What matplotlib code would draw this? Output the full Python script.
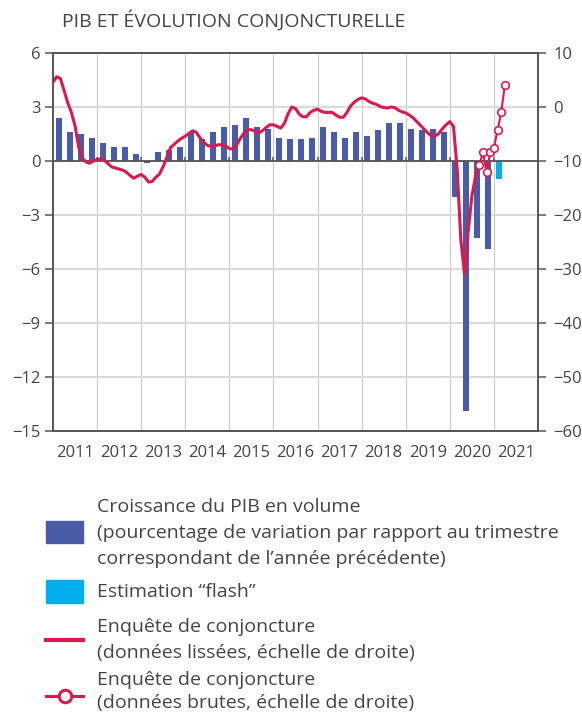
import matplotlib.pyplot as plt
from matplotlib.patches import Rectangle
from matplotlib.lines import Line2D

plt.rcParams['font.family'] = ['Open Sans', 'DejaVu Sans']

TITLE = "PIB ET ÉVOLUTION CONJONCTURELLE"
years = list(range(2011, 2022))

# GDP growth, % vs same quarter of previous year, 2011Q1 .. 2020Q4
gdp_q = [2.4, 1.6, 1.5, 1.3,
         1.0, 0.8, 0.8, 0.4,
         -0.1, 0.5, 0.6, 0.8,
         1.6, 1.2, 1.6, 1.9,
         2.0, 2.4, 1.9, 1.8,
         1.3, 1.2, 1.2, 1.3,
         1.9, 1.6, 1.3, 1.6,
         1.4, 1.7, 2.1, 2.1,
         1.8, 1.7, 1.8, 1.6,
         -2.0, -13.9, -4.3, -4.9]
# flash estimate, 2021Q1
flash_q = [-1.0]

# business survey, smoothed, monthly from Jan 2011 (right scale)
survey_smooth = [4.6, 5.6, 5.3, 3.1, 0.8, -1.0, -3.5, -7.5, -9.5, -10.2, -10.4, -10.0,
                 -9.7, -9.6, -9.9, -10.5, -11.1, -11.3, -11.5, -11.7, -12.1, -12.7, -13.2, -12.8,
                 -12.5, -13.0, -13.9, -13.8, -13.0, -12.4, -11.0, -9.3, -7.5, -6.9, -6.3, -5.8,
                 -5.4, -4.9, -4.4, -4.7, -5.7, -6.5, -7.1, -7.3, -7.2, -7.0, -7.0, -7.2,
                 -7.7, -7.8, -7.0, -5.8, -4.8, -4.2, -4.2, -4.5, -4.8, -4.4, -3.8, -3.3,
                 -3.3, -3.6, -3.9, -3.0, -1.2, 0.0, -0.3, -1.3, -1.8, -1.8, -1.0, -0.6,
                 -0.4, -0.8, -1.0, -1.0, -1.0, -1.5, -1.9, -1.9, -1.0, 0.2, 0.9, 1.4,
                 1.7, 1.5, 1.0, 0.7, 0.5, 0.1, -0.1, -0.2, 0.0, -0.1, -0.6, -0.9,
                 -1.1, -1.5, -2.0, -2.7, -3.4, -4.1, -4.8, -5.4, -5.4, -4.9, -4.0, -3.3,
                 -2.7, -3.6, -11.5, -24.6, -31.0, -23.0, -16.5, -12.8, -10.7]
# business survey, raw, monthly Sep 2020 .. Apr 2021
survey_raw = [-10.8, -8.4, -12.0, -8.4, -7.5, -4.3, -0.9, 4.1]

legend_labels = [
    ["Croissance du PIB en volume",
     "(pourcentage de variation par rapport au trimestre",
     "correspondant de l’année précédente)"],
    ["Estimation “flash”"],
    ["Enquête de conjoncture",
     "(données lissées, échelle de droite)"],
    ["Enquête de conjoncture",
     "(données brutes, échelle de droite)"],
]

BLUE = '#4a5ba8'
CYAN = '#00aeef'
RED = '#d91a50'
DARK = '#555555'
TXT = '#444444'

W, H = 582, 715
fig = plt.figure(figsize=(W / 100, H / 100), dpi=100)
ax = fig.add_axes([53 / W, 1 - 431 / H, 485 / W, 378 / H])

xq = [2011 + (i + 0.5) / 4 for i in range(len(gdp_q))]
xf = [2011 + (len(gdp_q) + i + 0.5) / 4 for i in range(len(flash_q))]
xs = [2011 + i / 12 for i in range(len(survey_smooth))]
xr = [2011 + (len(survey_smooth) - 1 + i) / 12 for i in range(len(survey_raw))]

ax.bar(xq, gdp_q, width=0.136, color=BLUE, zorder=2)
ax.bar(xf, flash_q, width=0.136, color=CYAN, zorder=2)
ax.axhline(0, color=DARK, lw=1.3, zorder=2.5)
ax.vlines(years[1:], 0, 0.22, color=DARK, lw=1.1, zorder=2.5)

ax.set_xlim(2011, 2022)
ax.set_ylim(-15, 6)
ax.set_yticks(range(-15, 7, 3))
ax.set_xticks([y + 0.5 for y in years])
ax.set_xticklabels([str(y) for y in years])
ax.set_xticks(years[1:], minor=True)
ax.grid(which='minor', axis='x', color='#c8c8c8', lw=0.8, zorder=0)
ax.grid(which='major', axis='y', color='#d9d9d9', lw=1.4, zorder=0)
ax.set_axisbelow(True)
ax.tick_params(axis='x', which='both', length=0, pad=10, labelsize=12, labelcolor=TXT)
ax.tick_params(axis='y', length=6, width=1.1, color=DARK, labelsize=12,
               labelcolor=TXT, pad=3)
for s in ax.spines.values():
    s.set_color(DARK)
    s.set_linewidth(1.2)

ax2 = ax.twinx()
ax2.set_ylim(-60, 10)
ax2.set_yticks(range(-60, 11, 10))
ax2.tick_params(axis='y', length=6, width=1.1, color=DARK, labelsize=12,
                labelcolor=TXT, pad=5)
for s in ax2.spines.values():
    s.set_color(DARK)
    s.set_linewidth(1.2)
ax2.plot(xs, survey_smooth, color=RED, lw=2.2, solid_joinstyle='round', zorder=3)
ax2.plot(xr, survey_raw, color=RED, lw=1.5, marker='o', ms=5.5,
         mfc='white', mec=RED, mew=1.2, zorder=4)

fig.text(62 / W, 1 - 20 / H, TITLE, fontsize=14, color=TXT, va='center', ha='left')

# legend drawn in pixel coordinates
lg = fig.add_axes([0, 0, 1, 1], zorder=-1)
lg.set_xlim(0, W)
lg.set_ylim(H, 0)
lg.axis('off')
lg.add_patch(Rectangle((46, 521), 37, 22, color=BLUE))
lg.add_patch(Rectangle((46, 580), 37, 23, color=CYAN))
lg.add_line(Line2D([46, 83], [640, 640], color=RED, lw=3))
lg.add_line(Line2D([46, 83], [696, 696], color=RED, lw=2.2))
lg.plot([64.5], [696], marker='o', ms=9, mfc='white', mec=RED, mew=2.2)

line_y = [[507, 533, 559], [592], [627, 653], [680, 703]]
for labels, ys in zip(legend_labels, line_y):
    for txt, yy in zip(labels, ys):
        lg.text(97, yy, txt, fontsize=14, color=TXT, va='center', ha='left')

fig.savefig('out.png', dpi=100)
